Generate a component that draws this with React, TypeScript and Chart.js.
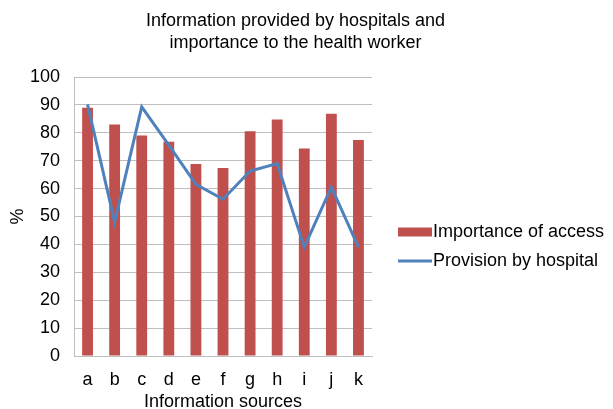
import React, { useEffect, useRef } from "react";
import { Chart, registerables } from "chart.js";

Chart.register(...registerables);

const categories = ["a", "b", "c", "d", "e", "f", "g", "h", "i", "j", "k"];
const importanceOfAccess = [89, 83, 79, 76.8, 68.8, 67.4, 80.6, 84.8, 74.4, 86.8, 77.4];
const provisionByHospital = [90.2, 48, 89.3, 75.6, 61.5, 56.2, 66.3, 69, 39, 60.5, 39];
const titleLines = ["Information provided by hospitals and", "importance to the health worker"];
const seriesNames = ["Importance of access", "Provision by hospital"];
const xAxisTitle = "Information sources";
const yAxisTitle = "%";

const BAR_COLOR = "#c0504d";
const LINE_COLOR = "#4f81bd";
const GRID_COLOR = "#bfbfbf";
const FONT_FAMILY = "'Liberation Sans', Arial, Helvetica, sans-serif";

const titlePlugin = {
  id: "customTitle",
  afterDraw(chart: any) {
    const ctx = chart.ctx;
    ctx.save();
    ctx.font = `18px ${FONT_FAMILY}`;
    ctx.fillStyle = "#000";
    ctx.textAlign = "center";
    ctx.textBaseline = "alphabetic";
    const cx = chart.width * 0.482;
    titleLines.forEach((t, i) => ctx.fillText(t, cx, 26 + i * 22));
    ctx.restore();
  },
};

const legendPlugin = {
  id: "customLegend",
  afterDraw(chart: any) {
    const ctx = chart.ctx;
    const area = chart.chartArea;
    const x0 = area.right + 26;
    const y1 = 232;
    const y2 = 261;
    ctx.save();
    ctx.fillStyle = BAR_COLOR;
    ctx.fillRect(x0, y1 - 4.5, 34, 9);
    ctx.strokeStyle = LINE_COLOR;
    ctx.lineWidth = 3;
    ctx.beginPath();
    ctx.moveTo(x0, y2);
    ctx.lineTo(x0 + 34, y2);
    ctx.stroke();
    ctx.font = `18px ${FONT_FAMILY}`;
    ctx.fillStyle = "#000";
    ctx.textAlign = "left";
    ctx.textBaseline = "middle";
    ctx.fillText(seriesNames[0], x0 + 35, y1);
    ctx.fillText(seriesNames[1], x0 + 35, y2);
    ctx.restore();
  },
};

export default function App() {
  const canvasRef = useRef<HTMLCanvasElement | null>(null);

  useEffect(() => {
    if (!canvasRef.current) return;
    Chart.defaults.font.family = FONT_FAMILY;
    const chart = new Chart(canvasRef.current, {
      type: "bar",
      data: {
        labels: categories,
        datasets: [
          {
            type: "line",
            label: seriesNames[1],
            data: provisionByHospital,
            borderColor: LINE_COLOR,
            backgroundColor: LINE_COLOR,
            borderWidth: 3,
            pointRadius: 0,
            tension: 0,
            order: 0,
          } as any,
          {
            type: "bar",
            label: seriesNames[0],
            data: importanceOfAccess,
            backgroundColor: BAR_COLOR,
            borderWidth: 0,
            categoryPercentage: 1,
            barPercentage: 0.4,
            order: 1,
          },
        ],
      },
      options: {
        responsive: false,
        animation: false,
        layout: { padding: { top: 77, right: 241, left: 0, bottom: 0 } },
        plugins: {
          legend: { display: false },
          title: { display: false },
          tooltip: { enabled: false },
        },
        scales: {
          x: {
            grid: { display: false, drawTicks: false },
            border: { display: true, color: GRID_COLOR },
            ticks: { color: "#000", font: { size: 18 }, padding: 13, maxRotation: 0 },
            title: {
              display: true,
              text: xAxisTitle,
              color: "#000",
              font: { size: 18, lineHeight: 0.75 },
              padding: { top: 0, bottom: 0 },
            },
            afterFit(scale: any) {
              scale.height = 53;
            },
          },
          y: {
            min: 0,
            max: 100,
            ticks: { stepSize: 10, color: "#000", font: { size: 18 }, padding: 14 },
            grid: { color: GRID_COLOR, lineWidth: 1, drawTicks: false, tickLength: 0 },
            border: { display: true, color: GRID_COLOR },
            title: {
              display: true,
              text: yAxisTitle,
              color: "#000",
              font: { size: 18 },
              padding: { top: 7, bottom: 0 },
            },
            afterFit(scale: any) {
              scale.width = 74;
            },
          },
        },
      },
      plugins: [titlePlugin, legendPlugin],
    });
    return () => chart.destroy();
  }, []);

  return (
    <div style={{ position: "fixed", left: 0, top: 0, width: 613, height: 409, background: "#fff" }}>
      <canvas ref={canvasRef} width={613} height={409} style={{ width: 613, height: 409 }} />
    </div>
  );
}
